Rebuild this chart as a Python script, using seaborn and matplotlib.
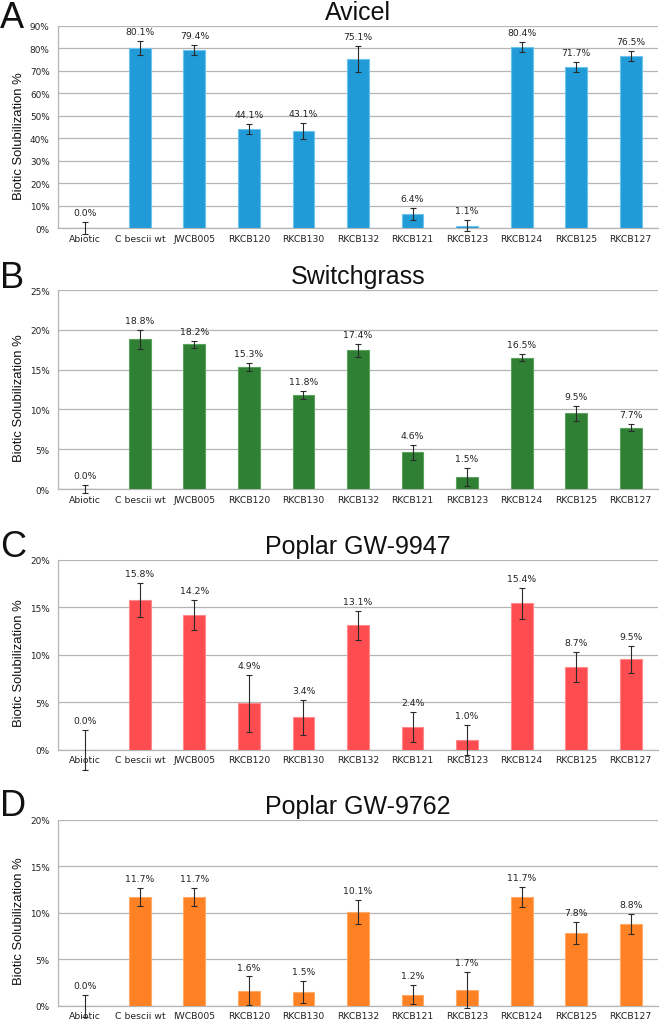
import numpy as np
import pandas as pd
import matplotlib
matplotlib.use("Agg")
import matplotlib.pyplot as plt
import seaborn as sns
from matplotlib.ticker import FuncFormatter, MultipleLocator, FixedLocator

categories = ["Abiotic", "C bescii wt", "JWCB005", "RKCB120", "RKCB130", "RKCB132",
              "RKCB121", "RKCB123", "RKCB124", "RKCB125", "RKCB127"]

avicel = [0.0, 80.1, 79.4, 44.1, 43.1, 75.1, 6.4, 1.1, 80.4, 71.7, 76.5]
avicel_err = [2.7, 3.0, 2.2, 2.1, 3.6, 5.8, 2.5, 2.5, 2.3, 2.1, 2.4]

switchgrass = [0.0, 18.8, 18.2, 15.3, 11.8, 17.4, 4.6, 1.5, 16.5, 9.5, 7.7]
switchgrass_err = [0.5, 1.2, 0.45, 0.5, 0.5, 0.8, 0.9, 1.1, 0.45, 0.9, 0.45]

poplar9947 = [0.0, 15.8, 14.2, 4.9, 3.4, 13.1, 2.4, 1.0, 15.4, 8.7, 9.5]
poplar9947_err = [2.1, 1.8, 1.6, 3.0, 1.8, 1.5, 1.6, 1.6, 1.6, 1.55, 1.4]

poplar9762 = [0.0, 11.7, 11.7, 1.6, 1.5, 10.1, 1.2, 1.7, 11.7, 7.8, 8.8]
poplar9762_err = [1.2, 1.0, 1.0, 1.55, 1.2, 1.3, 1.05, 1.9, 1.1, 1.2, 1.05]

titles = ["Avicel", "Switchgrass", "Poplar GW-9947", "Poplar GW-9762"]
letters = ["A", "B", "C", "D"]
ymax = [90, 25, 20, 20]
ystep = [10, 5, 5, 5]
colors = ["#219bd8", "#2f7f34", "#fe4d50", "#fe8124"]
edgecolors = ["#6cc3ee", "#5aa35e", "#ff8a8c", "#ffab6a"]

series = [(avicel, avicel_err), (switchgrass, switchgrass_err),
          (poplar9947, poplar9947_err), (poplar9762, poplar9762_err)]

sns.set_style("white")
plt.rcParams["font.family"] = ["DejaVu Sans"]

W, H = 660, 1020
fig = plt.figure(figsize=(W / 100, H / 100), dpi=100)

# axes boxes in pixel coordinates (left, top, right, bottom)
boxes = [(58, 26.7, 658, 229.3), (58, 291, 658, 490), (58, 560.7, 658, 750.7), (58, 820.7, 658, 1006.7)]
letter_tops = [1, 261, 530, 789]

grid_color = "#b5b5b5"
for i, ((vals, errs), box) in enumerate(zip(series, boxes)):
    l, t, r, b = box
    ax = fig.add_axes([l / W, 1 - b / H, (r - l) / W, (b - t) / H])
    df = pd.DataFrame({"cat": categories, "val": vals})
    sns.barplot(data=df, x="cat", y="val", color=colors[i], saturation=1, width=0.4,
                edgecolor=edgecolors[i], linewidth=0.8, ax=ax, zorder=3)
    xs = [p.get_x() + p.get_width() / 2 for p in ax.patches]
    eb = ax.errorbar(xs, vals, yerr=errs, fmt="none", ecolor="#2a2a2a",
                     elinewidth=0.8, capsize=2.5, capthick=0.8, zorder=4)
    for art in eb.get_children():
        art.set_clip_on(False)
    for x, v, e in zip(xs, vals, errs):
        ax.annotate(f"{v:.1f}%", (x, v + e), xytext=(0, 3.5), textcoords="offset points",
                    ha="center", va="bottom", fontsize=6.7, color="#222222")
    ax.set_xlim(-0.5, len(categories) - 0.5)
    ax.set_ylim(0, ymax[i])
    ax.yaxis.set_major_locator(MultipleLocator(ystep[i]))
    ax.yaxis.set_major_formatter(FuncFormatter(lambda v, p: f"{v:.0f}%"))
    ax.xaxis.set_minor_locator(FixedLocator(np.arange(-0.5, len(categories), 1)))
    ax.tick_params(axis="x", which="major", length=0, pad=4, labelsize=6.7, colors="#222222")
    ax.tick_params(axis="x", which="minor", length=4, width=0.8, color=grid_color)
    ax.tick_params(axis="y", which="major", length=4, width=0.8, color=grid_color,
                   labelsize=6.4, labelcolor="#222222", pad=2)
    ax.yaxis.grid(True, color=grid_color, linewidth=0.9, zorder=0)
    ax.set_axisbelow(True)
    for s in ["top", "right"]:
        ax.spines[s].set_visible(False)
    for s in ["left", "bottom"]:
        ax.spines[s].set_color(grid_color)
        ax.spines[s].set_linewidth(0.9)
    ax.set_xlabel("")
    ax.set_ylabel("Biotic Solubilization %", fontsize=9.4, family="Liberation Sans", color="#111111")
    ax.yaxis.set_label_coords(-0.055, 0.46)
    ax.set_title(titles[i], fontsize=18, family="Liberation Sans", color="#111111", pad=5)
    fig.text(0.0, 1 - letter_tops[i] / H, letters[i], fontsize=26, family="Liberation Sans",
             va="top", ha="left", color="#111111")

fig.savefig("out.png", dpi=100)
